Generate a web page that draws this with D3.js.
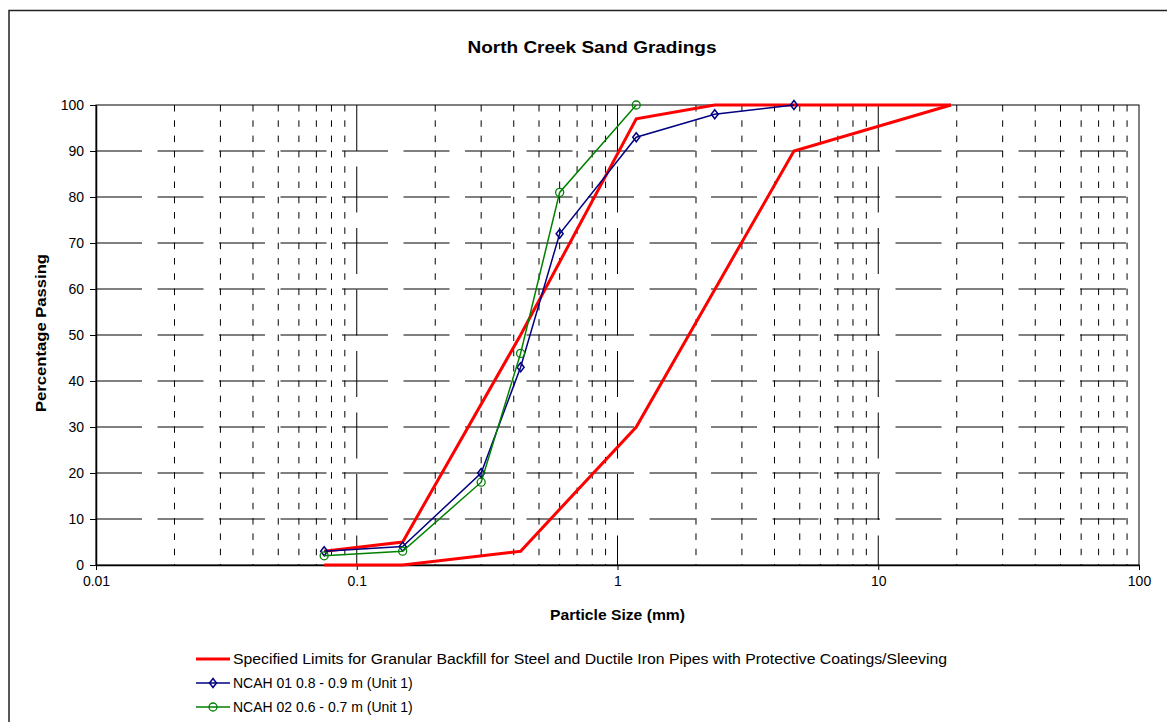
<!DOCTYPE html>
<html>
<head>
<meta charset="utf-8">
<script src="https://cdn.jsdelivr.net/npm/d3@7"></script>
<style>
  body { margin: 0; background: #fff; }
  text { font-family: Arial, "Liberation Sans", sans-serif; fill: #000; }
</style>
</head>
<body>
<div class="chart__wrapper"></div>
<script>
// sieve sizes (mm) and percentage passing
const limitUpperSize = [0.075, 0.15, 0.425, 1.18, 2.36, 19];
const limitUpperPass = [3, 5, 50, 97, 100, 100];
const limitLowerSize = [0.075, 0.15, 0.425, 1.18, 4.75, 19];
const limitLowerPass = [0, 0, 3, 30, 90, 100];

const ncah01Size = [0.075, 0.15, 0.3, 0.425, 0.6, 1.18, 2.36, 4.75];
const ncah01Pass = [3, 4, 20, 43, 72, 93, 98, 100];
const ncah02Size = [0.075, 0.15, 0.3, 0.425, 0.6, 1.18];
const ncah02Pass = [2, 3, 18, 46, 81, 100];

const xTicks = [0.01, 0.1, 1, 10, 100];
const xTickLabels = ["0.01", "0.1", "1", "10", "100"];
const yTicks = [0, 10, 20, 30, 40, 50, 60, 70, 80, 90, 100];

const legendLabels = [
  "Specified Limits for Granular Backfill for Steel and Ductile Iron Pipes with Protective Coatings/Sleeving",
  "NCAH 01 0.8 - 0.9 m (Unit 1)",
  "NCAH 02 0.6 - 0.7 m (Unit 1)",
];

const svgWidth = 1167;
const svgHeight = 722;
const plot = { left: 96, right: 1139, top: 105, bottom: 565 };

const svg = d3
  .select(".chart__wrapper")
  .append("svg")
  .attr("width", svgWidth)
  .attr("height", svgHeight);

svg.append("rect").attr("width", svgWidth).attr("height", svgHeight).attr("fill", "#fff");

// outer chart border (runs off the right and bottom of the picture)
svg
  .append("path")
  .attr("d", `M9,${svgHeight} V10.5 H${svgWidth}`)
  .attr("fill", "none")
  .attr("stroke", "#222")
  .attr("stroke-width", 1.5);

const x = d3.scaleLog().domain([0.01, 100]).range([plot.left, plot.right]);
const y = d3.scaleLinear().domain([0, 100]).range([plot.bottom, plot.top]);

// gridlines
const grid = svg.append("g").attr("stroke", "#000").attr("stroke-width", 1).attr("fill", "none");

const minorX = [];
[0.01, 0.1, 1, 10].forEach((d) => {
  for (let k = 2; k <= 9; k++) minorX.push(d * k);
});
grid
  .selectAll(".minor")
  .data(minorX)
  .enter()
  .append("line")
  .attr("x1", (d) => x(d))
  .attr("x2", (d) => x(d))
  .attr("y1", plot.top)
  .attr("y2", plot.bottom)
  .attr("stroke-dasharray", "6.5,8.8");

grid
  .selectAll(".major")
  .data([0.1, 1, 10])
  .enter()
  .append("line")
  .attr("x1", (d) => x(d))
  .attr("x2", (d) => x(d))
  .attr("y1", plot.top)
  .attr("y2", plot.bottom)
  .attr("stroke-dasharray", "46,15.5");

grid
  .selectAll(".hgrid")
  .data(yTicks.filter((d) => d > 0 && d < 100))
  .enter()
  .append("line")
  .attr("x1", plot.left)
  .attr("x2", plot.right)
  .attr("y1", (d) => y(d))
  .attr("y2", (d) => y(d))
  .attr("stroke-dasharray", "46,15.5");

// plot border
svg
  .append("rect")
  .attr("x", plot.left)
  .attr("y", plot.top)
  .attr("width", plot.right - plot.left)
  .attr("height", plot.bottom - plot.top)
  .attr("fill", "none")
  .attr("stroke", "#000")
  .attr("stroke-width", 1);

// axes
const xAxis = svg
  .append("g")
  .attr("transform", `translate(0,${plot.bottom})`)
  .call(
    d3.axisBottom(x)
      .tickValues(xTicks)
      .tickFormat((d, i) => xTickLabels[i])
      .tickSizeInner(5)
      .tickSizeOuter(0)
      .tickPadding(6)
  );
const yAxis = svg
  .append("g")
  .attr("transform", `translate(${plot.left},0)`)
  .call(d3.axisLeft(y).tickValues(yTicks).tickSizeInner(6).tickSizeOuter(0).tickPadding(6));

[xAxis, yAxis].forEach((a) => {
  a.selectAll("path").attr("stroke", "#000").attr("stroke-width", 1.5);
  a.selectAll("line").attr("stroke", "#000").attr("stroke-width", 1);
  a.selectAll("text").style("font-size", "14px").attr("fill", "#000");
});

// titles
svg
  .append("text")
  .attr("x", 592)
  .attr("y", 53)
  .attr("text-anchor", "middle")
  .attr("textLength", 249)
  .attr("lengthAdjust", "spacingAndGlyphs")
  .style("font-size", "16px")
  .style("font-weight", "bold")
  .text("North Creek Sand Gradings");

svg
  .append("text")
  .attr("x", (plot.left + plot.right) / 2)
  .attr("y", 620)
  .attr("text-anchor", "middle")
  .attr("textLength", 135)
  .attr("lengthAdjust", "spacingAndGlyphs")
  .style("font-size", "14px")
  .style("font-weight", "bold")
  .text("Particle Size (mm)");

svg
  .append("text")
  .attr("transform", `translate(46,${(plot.top + plot.bottom) / 2 - 2}) rotate(-90)`)
  .attr("text-anchor", "middle")
  .attr("textLength", 158)
  .attr("lengthAdjust", "spacingAndGlyphs")
  .style("font-size", "14px")
  .style("font-weight", "bold")
  .text("Percentage Passing");

// series
const line = d3
  .line()
  .x((d) => x(d[0]))
  .y((d) => y(d[1]));

const zip = (a, b) => a.map((d, i) => [d, b[i]]);

const limits = [zip(limitUpperSize, limitUpperPass), zip(limitLowerSize, limitLowerPass)];
svg
  .selectAll(".limit")
  .data(limits)
  .enter()
  .append("path")
  .attr("d", line)
  .attr("fill", "none")
  .attr("stroke", "#ff0000")
  .attr("stroke-width", 3)
  .attr("stroke-linejoin", "miter");

const samples = [
  { pts: zip(ncah01Size, ncah01Pass), color: "#000080", marker: "diamond" },
  { pts: zip(ncah02Size, ncah02Pass), color: "#008000", marker: "circle" },
];

function drawMarker(g, kind, color) {
  if (kind === "diamond") {
    g.append("path")
      .attr("d", "M0,-4.5 L3.5,0 L0,4.5 L-3.5,0 Z")
      .attr("fill", "none")
      .attr("stroke", color)
      .attr("stroke-width", 1.5);
  } else {
    g.append("circle")
      .attr("r", 4)
      .attr("fill", "none")
      .attr("stroke", color)
      .attr("stroke-width", 1.3);
  }
}

samples.forEach((s) => {
  svg
    .append("path")
    .attr("d", line(s.pts))
    .attr("fill", "none")
    .attr("stroke", s.color)
    .attr("stroke-width", 1.5);
  s.pts.forEach((p) => {
    const g = svg.append("g").attr("transform", `translate(${x(p[0])},${y(p[1])})`);
    drawMarker(g, s.marker, s.color);
  });
});

// legend
const legendY = [659, 683, 707];
const legendColors = ["#ff0000", "#000080", "#008000"];
const legendMarkers = [null, "diamond", "circle"];
legendLabels.forEach((label, i) => {
  const g = svg.append("g").attr("transform", `translate(196,${legendY[i]})`);
  g.append("line")
    .attr("x1", 0)
    .attr("x2", 34)
    .attr("stroke", legendColors[i])
    .attr("stroke-width", i === 0 ? 3 : 1.5);
  if (legendMarkers[i]) {
    const m = g.append("g").attr("transform", "translate(17,0)");
    drawMarker(m, legendMarkers[i], legendColors[i]);
  }
  const t = g.append("text")
    .attr("x", 37)
    .attr("dy", "0.35em")
    .style("font-size", "14px")
    .text(label);
  if (i === 0) t.attr("textLength", 714).attr("lengthAdjust", "spacingAndGlyphs");
});
</script>
</body>
</html>
